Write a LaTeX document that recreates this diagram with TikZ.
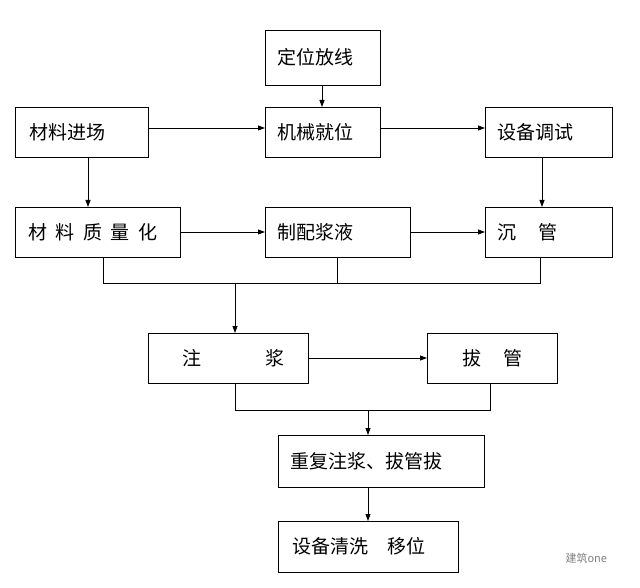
\documentclass[tikz,border=0pt]{standalone}
\usepackage{fontspec}
\newfontfamily\cjk{Noto Sans CJK SC}
\usetikzlibrary{arrows.meta}
\begin{document}
\begin{tikzpicture}[x=1pt,y=-1pt,
  box/.style={draw,line width=0.8pt,inner sep=0pt},
  lbl/.style={anchor=west,font=\cjk\fontsize{19}{22}\selectfont,inner sep=0pt},
  arr/.style={line width=0.8pt,-{Triangle[length=7pt,width=5pt]}},
  ln/.style={line width=0.8pt}]
\useasboundingbox (0,0) rectangle (640,588);
\draw[box] (265,30) rectangle (380,85);
\node[lbl] (dw) at (277,57.5) {定位放线};
\draw[box] (15,107) rectangle (148,157); \node[lbl] (cl) at (29,132) {材料进场};
\draw[box] (265,107) rectangle (380,157); \node[lbl] (jx) at (277,132) {机械就位};
\draw[box] (485,107) rectangle (612,157); \node[lbl] (sb) at (497,132) {设备调试};
\draw[box] (15,207) rectangle (180,257); \node[lbl] (zl) at (28,232) {材\hspace{0.45em}料\hspace{0.45em}质\hspace{0.45em}量\hspace{0.45em}化};
\draw[box] (265,207) rectangle (410,257); \node[lbl] (zp) at (277,232) {制配浆液};
\draw[box] (485,207) rectangle (612,257); \node[lbl] (cg) at (497,232) {沉\hspace{1.2em}管};
\draw[box] (148,333) rectangle (308,383); \node[lbl] (zj) at (182,358) {注\hspace{3.4em}浆};
\draw[box] (427,333) rectangle (557,383); \node[lbl] (bg) at (462,358) {拔\hspace{1.2em}管};
\draw[box] (278,435) rectangle (484,487); \node[lbl] (cf) at (290,461) {重复注浆、拔管拔};
\draw[box] (278,521) rectangle (458,572); \node[lbl] (qx) at (292,546.5) {设备清洗\hspace{1em}移位};
\node[font=\cjk\fontsize{11}{12}\selectfont,text=gray,anchor=west] (wm) at (562,558) {建筑one};
\coordinate (a1) at (322,85); \coordinate (a2) at (322,107);
\draw[arr] (a1) -- (a2);
\coordinate (b1) at (148,128); \coordinate (b2) at (265,128);
\draw[arr] (b1) -- (b2);
\coordinate (c1) at (380,128); \coordinate (c2) at (485,128);
\draw[arr] (c1) -- (c2);
\coordinate (d1) at (88,157); \coordinate (d2) at (88,207);
\draw[arr] (d1) -- (d2);
\coordinate (e1) at (542,157); \coordinate (e2) at (542,207);
\draw[arr] (e1) -- (e2);
\coordinate (f1) at (180,232); \coordinate (f2) at (265,232);
\draw[arr] (f1) -- (f2);
\coordinate (g1) at (410,232); \coordinate (g2) at (485,232);
\draw[arr] (g1) -- (g2);
\coordinate (h1) at (103,257); \coordinate (h2) at (103,283);
\coordinate (h3) at (540,283); \coordinate (h4) at (540,257);
\draw[ln] (h1) -- (h2) -- (h3) -- (h4);
\coordinate (h5) at (337,257); \coordinate (h6) at (337,283);
\draw[ln] (h5) -- (h6);
\coordinate (i1) at (235,283); \coordinate (i2) at (235,333);
\draw[arr] (i1) -- (i2);
\coordinate (j1) at (308,358); \coordinate (j2) at (427,358);
\draw[arr] (j1) -- (j2);
\coordinate (k1) at (235,383); \coordinate (k2) at (235,410);
\coordinate (k3) at (490,410); \coordinate (k4) at (490,383);
\draw[ln] (k1) -- (k2) -- (k3) -- (k4);
\coordinate (l1) at (368,410); \coordinate (l2) at (368,435);
\draw[arr] (l1) -- (l2);
\coordinate (m1) at (368,487); \coordinate (m2) at (368,521);
\draw[arr] (m1) -- (m2);
\end{tikzpicture}
\end{document}
